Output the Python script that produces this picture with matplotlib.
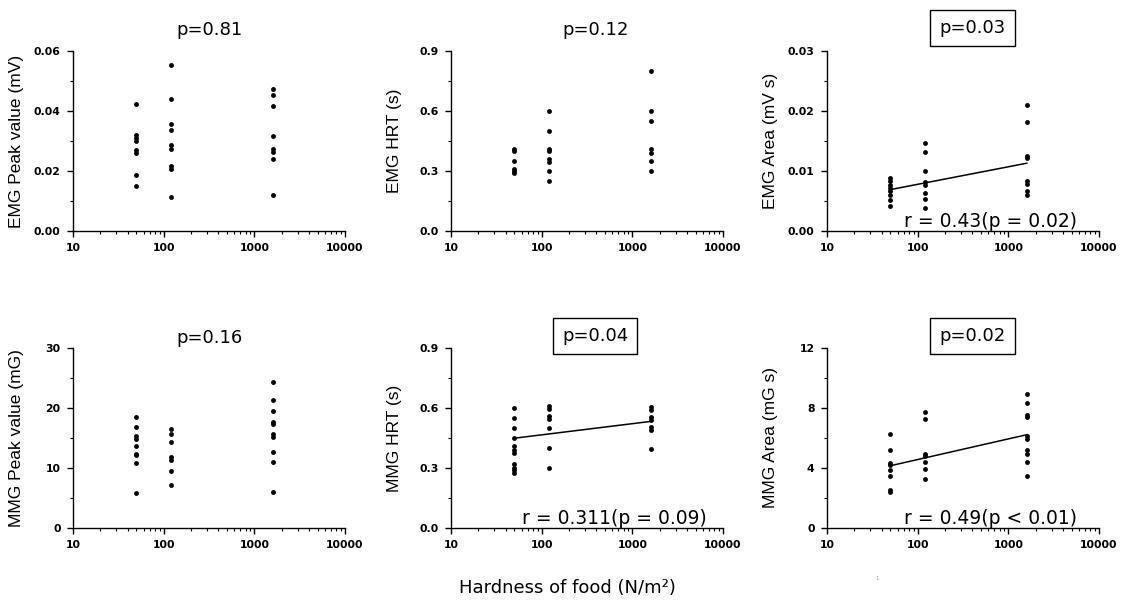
import numpy as np
import matplotlib
matplotlib.use("Agg")
import matplotlib.pyplot as plt
from matplotlib.ticker import FixedLocator, MultipleLocator, LogLocator, NullFormatter

# hardness of the three foods (N/m2)
hard = [50, 120, 1600]

# EMG peak value (mV)
emg_peak = [
    [0.0424, 0.032, 0.031, 0.030, 0.027, 0.026, 0.0185, 0.015],
    [0.0553, 0.0441, 0.0357, 0.0336, 0.0287, 0.0272, 0.0216, 0.0207, 0.0113],
    [0.0472, 0.0452, 0.0415, 0.0317, 0.0272, 0.0264, 0.0239, 0.0121],
]
# EMG HRT (s)
emg_hrt = [
    [0.41, 0.40, 0.35, 0.31, 0.30, 0.29],
    [0.60, 0.50, 0.41, 0.40, 0.36, 0.345, 0.30, 0.25],
    [0.80, 0.60, 0.55, 0.41, 0.39, 0.35, 0.30],
]
# EMG area (mV s)
emg_area = [
    [0.0089, 0.0084, 0.0077, 0.0071, 0.0066, 0.0060, 0.0052, 0.0042],
    [0.0146, 0.0131, 0.0100, 0.0081, 0.0077, 0.0064, 0.0054, 0.0039],
    [0.0210, 0.0181, 0.0125, 0.0121, 0.0083, 0.0078, 0.0066, 0.0060],
]
# MMG peak value (mG)
mmg_peak = [
    [18.5, 16.8, 15.4, 14.9, 13.7, 12.4, 12.2, 10.9, 5.9],
    [16.5, 15.7, 14.3, 11.9, 11.4, 9.5, 7.1],
    [24.3, 21.4, 19.5, 17.7, 17.3, 15.6, 15.2, 12.7, 11.0, 6.0],
]
# MMG HRT (s)
mmg_hrt = [
    [0.60, 0.55, 0.50, 0.45, 0.41, 0.39, 0.375, 0.32, 0.30, 0.29, 0.275],
    [0.61, 0.595, 0.56, 0.545, 0.50, 0.40, 0.30],
    [0.605, 0.59, 0.555, 0.54, 0.505, 0.49, 0.395],
]
# MMG area (mG s)
mmg_area = [
    [6.27, 5.18, 4.33, 4.18, 3.84, 3.44, 2.56, 2.38],
    [7.73, 7.29, 4.96, 4.82, 4.40, 3.96, 3.29],
    [8.93, 8.33, 7.51, 7.40, 6.11, 5.96, 5.22, 4.96, 4.40, 3.44],
]

panels = [emg_peak, emg_hrt, emg_area, mmg_peak, mmg_hrt, mmg_area]
ylabels = ["EMG Peak value (mV)", "EMG HRT (s)", "EMG Area (mV s)",
           "MMG Peak value (mG)", "MMG HRT (s)", "MMG Area (mG s)"]
ptexts = ["p=0.81", "p=0.12", "p=0.03", "p=0.16", "p=0.04", "p=0.02"]
boxed = [False, False, True, False, True, True]
ymaxes = [0.06, 0.9, 0.03, 30, 0.9, 12]
ysteps = [0.02, 0.3, 0.01, 10, 0.3, 4]
yfmt = ["%.2f", "%.1f", "%.2f", "%d", "%.1f", "%d"]
# regression lines (value at first and last hardness), None = no line
fits = [None, None, [0.0069, 0.0113], None, [0.449, 0.533], [4.15, 6.22]]
rtexts = [None, None, "r = 0.43(p = 0.02)", None, "r = 0.311(p = 0.09)", "r = 0.49(p < 0.01)"]

W, H = 1125, 607
fig = plt.figure(figsize=(W / 100, H / 100), dpi=100)

lefts = [73, 451, 827]
bottoms = [231, 528]
aw, ah = 272, 180
title_x = [0.5, 0.53, 0.535]
title_y = [1.117, 1.056]
box_y = [1.128, 1.067]

for i in range(6):
    row, col = i // 3, i % 3
    ax = fig.add_axes([lefts[col] / W, 1 - bottoms[row] / H, aw / W, ah / H])
    for j in range(3):
        ax.plot([hard[j]] * len(panels[i][j]), panels[i][j], "o", color="black",
                ms=3.5, mew=0, clip_on=False)
    if fits[i] is not None:
        ax.plot([hard[0], hard[2]], fits[i], color="black", lw=1.1)
    ax.set_xscale("log")
    ax.set_xlim(10, 10000)
    ax.set_ylim(0, ymaxes[i])
    ax.xaxis.set_major_locator(FixedLocator([10, 100, 1000, 10000]))
    ax.set_xticklabels(["10", "100", "1000", "10000"])
    ax.xaxis.set_minor_locator(LogLocator(base=10, subs=np.arange(2, 10)))
    ax.xaxis.set_minor_formatter(NullFormatter())
    yt = np.arange(0, ymaxes[i] + ysteps[i] / 2, ysteps[i])
    ax.yaxis.set_major_locator(FixedLocator(yt))
    ax.set_yticklabels([yfmt[i] % v for v in yt])
    ax.yaxis.set_minor_locator(MultipleLocator(ysteps[i] / 2))
    ax.spines["top"].set_visible(False)
    ax.spines["right"].set_visible(False)
    ax.spines["left"].set_linewidth(1.0)
    ax.spines["bottom"].set_linewidth(1.0)
    ax.tick_params(which="major", direction="out", length=4, width=1, labelsize=7.8, pad=5)
    ax.tick_params(which="minor", direction="out", length=2.5, width=0.8)
    for lab in ax.get_xticklabels() + ax.get_yticklabels():
        lab.set_fontweight("bold")
    ax.set_ylabel(ylabels[i], fontsize=12.5, family="Liberation Sans")
    ax.yaxis.set_label_coords(-0.18, 0.5)
    if boxed[i]:
        ax.text(title_x[col], box_y[row], ptexts[i], transform=ax.transAxes,
                ha="center", va="center", fontsize=13,
                bbox=dict(boxstyle="square,pad=0.5", fc="white", ec="black", lw=1))
    else:
        ax.text(title_x[col], title_y[row], ptexts[i], transform=ax.transAxes,
                ha="center", va="center", fontsize=13)
    if rtexts[i] is not None:
        ax.text(0.6, 0.055, rtexts[i], transform=ax.transAxes, ha="center", va="center",
                fontsize=13.5)

fig.text(567 / W, 1 - 588 / H, "Hardness of food (N/m²)", ha="center", va="center",
         fontsize=13)
fig.text(877 / W, 1 - 578 / H, "1", ha="center", va="center", fontsize=4, color="#999999")

fig.savefig("out.png", dpi=100)
